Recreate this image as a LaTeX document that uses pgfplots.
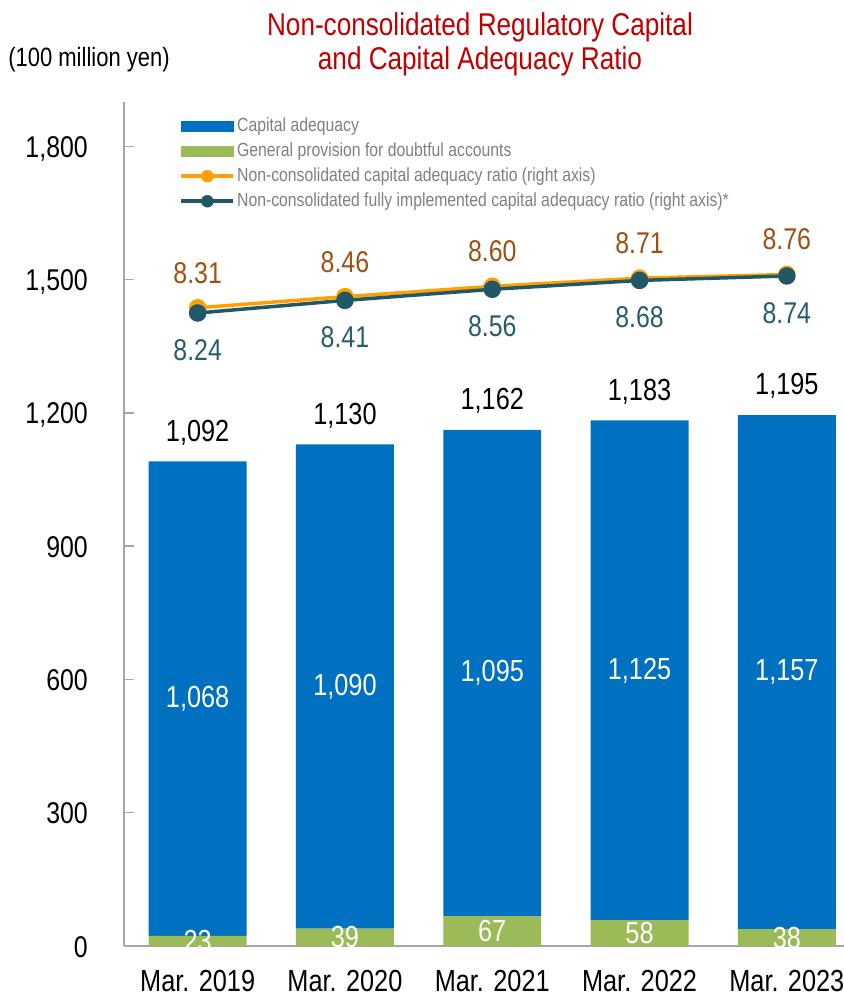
\documentclass[border=0pt]{standalone}
\usepackage{pgfplots}
\pgfplotsset{compat=1.18}
\usepackage{fontspec}
\setmainfont{Liberation Sans}[FakeStretch=0.83]
\definecolor{barblue}{RGB}{0,112,192}
\definecolor{bargreen}{RGB}{155,187,89}
\definecolor{lorange}{RGB}{255,160,0}
\definecolor{ldark}{RGB}{33,88,103}
\definecolor{tbrown}{RGB}{158,80,20}
\definecolor{tdark}{RGB}{38,93,108}
\definecolor{axgray}{RGB}{166,166,166}
\definecolor{leggray}{RGB}{127,127,127}
\definecolor{titlered}{RGB}{192,0,0}
\newcommand\bigf{\fontsize{30.5}{34}\selectfont}
\pgfplotsset{base/.style={scale only axis, width=720pt, height=844pt, at={(124pt,51pt)}, anchor=south west, xmin=-0.5, xmax=4.388}}
\begin{document}
\begin{tikzpicture}
\path[use as bounding box] (0,0) rectangle (844pt,997pt);
\node[text=titlered, align=center, font=\fontsize{31.5}{34}\selectfont] at (480pt,953pt) {Non-consolidated Regulatory Capital\\and Capital Adequacy Ratio};
\node[font=\fontsize{26.5}{30}\selectfont] at (89pt,937pt) {(100 million yen)};
\begin{axis}[base, ymin=0, ymax=1900, ybar stacked, bar width=0.665,
  axis x line*=bottom, axis y line*=left,
  axis line style={draw=axgray, line width=1.5pt},
  xtick={0,1,2,3,4}, xticklabels={Mar. 2019,Mar. 2020,Mar. 2021,Mar. 2022,Mar. 2023},
  x tick style={draw=none},
  ytick={0,300,600,900,1200,1500,1800}, yticklabels={0,300,600,900,{1,200},{1,500},{1,800}},
  y tick style={draw=axgray, line width=1.5pt}, major tick length=10pt, tick align=inside,
  ticklabel style={inner sep=0pt},
  yticklabel style={font=\fontsize{30}{34}\selectfont, anchor=base east, xshift=-36pt, yshift=-11pt},
  xticklabel style={font=\fontsize{30.5}{34}\selectfont, anchor=base, yshift=-45pt},
  legend style={at={(0.077,0.9816)}, anchor=north west, draw=none, fill=none, inner sep=0pt,
    row sep=8pt, column sep=2pt, font=\fontsize{19}{21}\selectfont, text=leggray,
    nodes={inner sep=0pt, text height=13.5pt, text depth=3.5pt}},
  legend cell align=left]
\addplot[fill=bargreen, draw=none, forget plot] coordinates {(0,23) (1,39) (2,67) (3,58) (4,38)};
\addplot[fill=barblue, draw=none, forget plot] coordinates {(0,1068) (1,1090) (2,1095) (3,1125) (4,1157)};
\addlegendimage{legend image code/.code={\fill[barblue] (0pt,-5pt) rectangle (52pt,5pt);}}
\addlegendentry{Capital adequacy}
\addlegendimage{legend image code/.code={\fill[bargreen] (0pt,-5pt) rectangle (52pt,5pt);}}
\addlegendentry{General provision for doubtful accounts}
\addlegendimage{legend image code/.code={\draw[lorange, line width=3.5pt] (0pt,0pt) -- (52pt,0pt); \fill[lorange] (26pt,0pt) circle (6pt);}}
\addlegendentry{Non-consolidated capital adequacy ratio (right axis)}
\addlegendimage{legend image code/.code={\draw[ldark, line width=3.5pt] (0pt,0pt) -- (52pt,0pt); \fill[ldark] (26pt,0pt) circle (6pt);}}
\addlegendentry{Non-consolidated fully implemented capital adequacy ratio (right axis)*}
\end{axis}
\begin{axis}[base, ymin=0, ymax=1900, hide axis, clip=false]
\addplot[draw=none, mark=none, nodes near coords, point meta=explicit symbolic,
  nodes near coords style={anchor=center, yshift=29pt, text=black, font=\bigf}]
  coordinates {(0,1091) [{1,092}] (1,1129) [{1,130}] (2,1162) [{1,162}] (3,1183) [{1,183}] (4,1195) [{1,195}]};
\addplot[draw=none, mark=none, nodes near coords, point meta=explicit symbolic,
  nodes near coords style={anchor=center, text=white, font=\bigf}]
  coordinates {(0,557) [{1,068}] (1,584) [{1,090}] (2,614.5) [{1,095}] (3,620.5) [{1,125}] (4,616.5) [{1,157}]};
\addplot[draw=none, mark=none, nodes near coords, point meta=explicit symbolic,
  nodes near coords style={anchor=center, text=white, font=\bigf}]
  coordinates {(0,11.5) [23] (1,19.5) [39] (2,33.5) [67] (3,29) [58] (4,19) [38]};
\end{axis}
\begin{axis}[base, ymin=-0.31, ymax=11.09, hide axis, clip=false]
\addplot[lorange, line width=3.5pt, mark=*, mark size=7pt, mark options={fill=lorange, draw=none},
  nodes near coords, point meta=explicit symbolic,
  nodes near coords style={anchor=center, yshift=35pt, text=tbrown, font=\fontsize{30}{34}\selectfont}]
  coordinates {(0,8.31) [8.31] (1,8.46) [8.46] (2,8.60) [8.60] (3,8.71) [8.71] (4,8.76) [8.76]};
\addplot[ldark, line width=3.5pt, mark=*, mark size=7pt, mark options={fill=ldark, draw=none},
  nodes near coords, point meta=explicit symbolic,
  nodes near coords style={anchor=center, yshift=-37pt, text=tdark, font=\fontsize{30}{34}\selectfont}]
  coordinates {(0,8.24) [8.24] (1,8.41) [8.41] (2,8.56) [8.56] (3,8.68) [8.68] (4,8.74) [8.74]};
\end{axis}
\end{tikzpicture}
\end{document}
